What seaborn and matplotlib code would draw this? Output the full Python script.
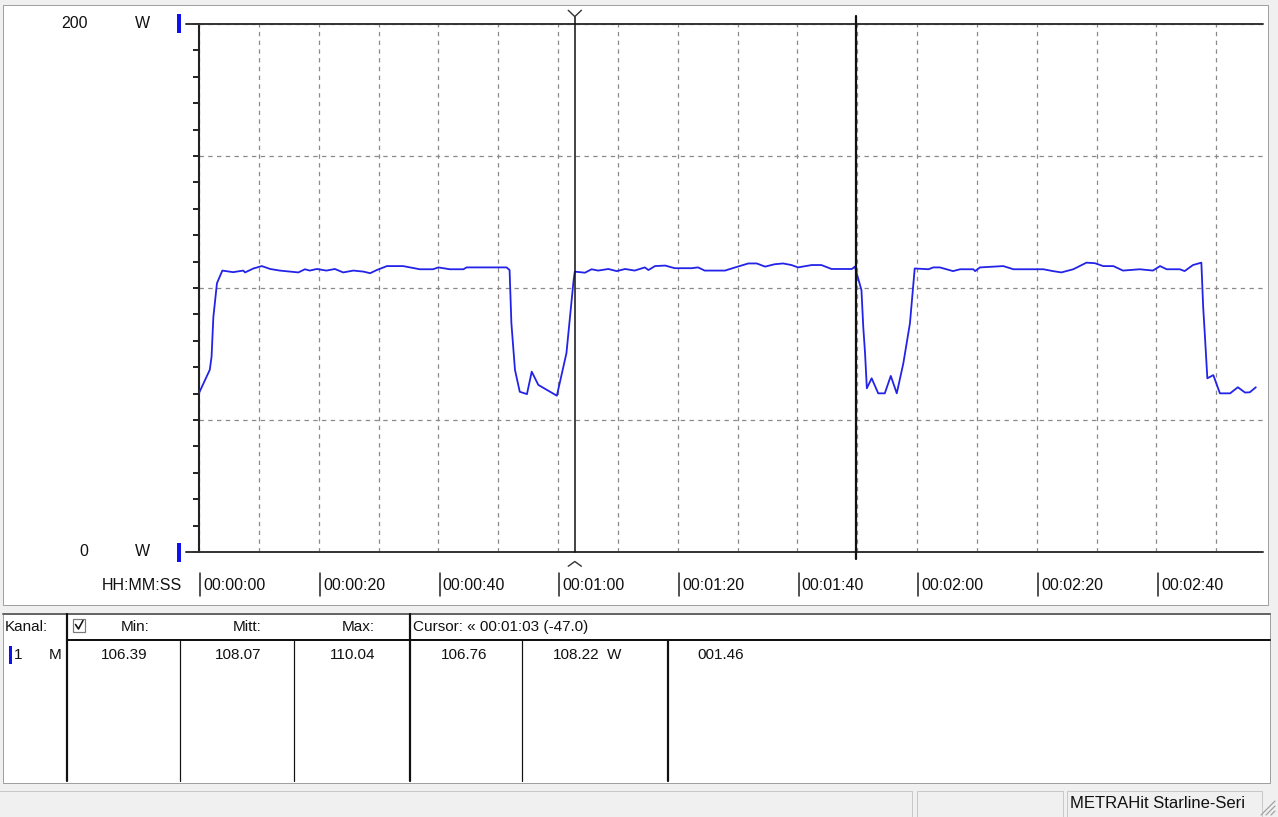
import matplotlib
matplotlib.use("Agg")
import matplotlib.pyplot as plt
import seaborn as sns
import pandas as pd
from matplotlib.lines import Line2D
from matplotlib.patches import Rectangle
from matplotlib.ticker import MultipleLocator

time_s = [0, 1.8, 2.1, 2.4, 3.0, 3.9, 5.7, 7.4, 7.7, 9.1, 10.5, 11.9, 13.5, 16.6, 17.7,
          18.5, 19.7, 21.3, 22.7, 24.1, 25.8, 27.5, 28.6, 29.7, 31.4, 34.1, 36.9, 39.1,
          40.0, 41.9, 44.2, 44.7, 51.4, 51.9, 52.2, 52.8, 53.6, 54.8, 55.6, 56.7, 59.8,
          61.4, 62.6, 62.8, 64.5, 65.6, 66.7, 68.4, 69.8, 71.2, 72.8, 74.5, 75.1, 76.2,
          77.9, 79.5, 82.3, 83.4, 84.5, 87.9, 89.6, 91.8, 93.2, 94.6, 96.2, 97.6, 99.0,
          100.1, 102.4, 104.0, 105.7, 109.1, 109.6, 109.9, 110.7, 111.0, 111.3, 111.6,
          112.4, 113.5, 114.6, 115.6, 116.6, 117.7, 118.8, 119.6, 121.9, 122.7, 123.8,
          126.0, 127.2, 129.4, 129.7, 130.5, 134.4, 136.1, 141.1, 142.7, 144.1, 146.1,
          148.3, 149.7, 151.1, 152.8, 154.4, 157.2, 159.4, 160.6, 161.7, 163.9, 164.7,
          166.1, 167.5, 167.8, 168.1, 168.5, 169.5, 170.6, 172.3, 173.6, 174.8, 175.6,
          176.6]
power_w = [60.2, 69.0, 74.0, 89.0, 101.8, 106.6, 106.0, 106.6, 105.9, 107.4, 108.3, 107.2,
           106.6, 105.9, 107.1, 106.6, 107.2, 106.6, 107.2, 105.9, 106.6, 106.2, 105.6,
           106.8, 108.3, 108.3, 107.1, 107.1, 107.8, 107.1, 107.1, 107.8, 107.8, 106.8,
           86.7, 69.0, 60.7, 59.8, 68.3, 63.3, 59.2, 75.3, 103.0, 106.2, 105.8, 107.1,
           106.6, 107.2, 106.4, 107.2, 106.6, 107.8, 106.8, 108.3, 108.5, 107.5, 107.5,
           107.8, 106.6, 106.6, 107.8, 109.3, 109.3, 108.1, 109.0, 109.3, 108.7, 107.8,
           108.7, 108.7, 107.2, 107.2, 108.1, 105.6, 99.2, 85.3, 75.3, 62.0, 65.8, 60.1,
           60.1, 66.7, 60.1, 71.5, 86.6, 107.4, 107.1, 107.8, 107.8, 106.4, 107.1, 107.1,
           106.4, 107.8, 108.3, 107.1, 107.1, 106.4, 105.9, 107.1, 109.6, 109.4, 108.3,
           108.3, 106.6, 107.1, 106.6, 108.3, 107.1, 107.1, 106.4, 108.7, 109.6, 92.9,
           81.6, 65.8, 67.0, 60.1, 60.1, 62.4, 60.4, 60.5, 62.4]

x_tick_values = [0, 20, 40, 60, 80, 100, 120, 140, 160]
x_tick_labels = ["00:00:00", "00:00:20", "00:00:40", "00:01:00", "00:01:20",
                 "00:01:40", "00:02:00", "00:02:20", "00:02:40"]
y_limits = [0, 200]
x_max = 177.8
cursor_times = [62.8, 109.8]

# Table below the chart
header_cells = ["Min:", "Mitt:", "Max:"]
stat_values = ["106.39", "108.07", "110.04"]
cursor_values = ["106.76", "108.22"]
cursor_title = "Cursor: « 00:01:03 (-47.0)"
cursor_diff = "001.46"
unit = "W"
status_text = "METRAHit Starline-Seri"

sns.set_style("white")
plt.rcParams['font.family'] = ['Liberation Sans', 'DejaVu Sans']

W, H = 1278, 817
fig = plt.figure(figsize=(W / 100, H / 100), dpi=100, facecolor='#f0f0f0')
PX = 0.72  # one pixel in points


def px_rect(x0, y0, x1, y1, **kw):
    fig.add_artist(Rectangle((x0 / W, 1 - y1 / H), (x1 - x0) / W, (y1 - y0) / H,
                             transform=fig.transFigure, **kw))


def px_line(xs, ys, **kw):
    fig.add_artist(Line2D([x / W for x in xs], [1 - y / H for y in ys],
                          transform=fig.transFigure, **kw))


def px_text(x, y, s, **kw):
    fig.text(x / W, 1 - y / H, s, **kw)


# panels
px_rect(3, 5, 1268, 605, facecolor='white', edgecolor='#a0a0a0', lw=PX, zorder=-5)
px_rect(3, 613, 1270, 783, facecolor='white', edgecolor='#a0a0a0', lw=PX, zorder=-5)
px_line([3, 1270], [614, 614], color='#666666', lw=2 * PX)

# chart
ax = fig.add_axes([199 / W, 1 - 552 / H, (1263 - 199) / W, (552 - 24) / H])
ax.set_facecolor('none')
df = pd.DataFrame({'t': time_s, 'P': power_w})
sns.lineplot(data=df, x='t', y='P', ax=ax, color='#2323e8', linewidth=1.3,
             estimator=None, sort=False, zorder=3)
ax.set_xlim(0, x_max)
ax.set_ylim(*y_limits)
ax.set_xlabel('')
ax.set_ylabel('')
ax.xaxis.set_major_locator(MultipleLocator(10))
ax.yaxis.set_major_locator(MultipleLocator(50))
ax.yaxis.set_minor_locator(MultipleLocator(10))
ax.grid(True, which='major', color='#8a8a8a', linestyle=(0, (3.5, 3.5)), linewidth=0.9)
ax.set_axisbelow(True)
ax.tick_params(axis='x', length=0, labelbottom=False)
ax.tick_params(axis='y', which='both', left=True, length=4.5, width=1.4,
               color='#222222', labelleft=False, direction='out')
for side in ['top', 'right', 'bottom']:
    ax.spines[side].set_visible(False)
ax.spines['left'].set_color('#222222')
ax.spines['left'].set_linewidth(1.5)
ext = -13 / 1064
ax.axhline(y_limits[1], xmin=ext, xmax=1, clip_on=False, color='#333333', lw=1.4, zorder=4)
ax.axhline(y_limits[0], xmin=ext, xmax=1, clip_on=False, color='#333333', lw=1.4, zorder=4)

# cursors
c1, c2 = cursor_times
ax.plot([c1, c1], [0, 202.8], color='#111111', lw=1.1, clip_on=False, zorder=5)
ax.plot([c1 - 1.1, c1, c1 + 1.1], [205.2, 202.8, 205.2], color='#333333', lw=1.0,
        clip_on=False, zorder=5)
ax.plot([c1 - 1.1, c1, c1 + 1.1], [-5.4, -3.6, -5.4], color='#333333', lw=1.0,
        clip_on=False, zorder=5)
ax.plot([c2, c2], [-2.6, 203.0], color='#111111', lw=1.6, clip_on=False, zorder=5)

# x labels
for t, lab in zip(x_tick_values, x_tick_labels):
    ax.plot([t + 0.2, t + 0.2], [-8.0, -16.5], color='#222222', lw=1.1, clip_on=False)
    ax.annotate(lab, (t, -12.6), xytext=(3.2, 0), textcoords='offset points',
                ha='left', va='center', fontsize=11.5, color='#111111',
                annotation_clip=False)
px_text(182, 585, 'HH:MM:SS', ha='right', va='center', fontsize=11.5, color='#111111')

# y labels
px_text(88, 24, str(y_limits[1]), ha='right', va='center', fontsize=11.5, color='#111111')
px_text(88, 552, str(y_limits[0]), ha='right', va='center', fontsize=11.5, color='#111111')
px_text(142, 24, unit, ha='center', va='center', fontsize=11.5, color='#111111')
px_text(142, 552, unit, ha='center', va='center', fontsize=11.5, color='#111111')
px_rect(177, 14, 181, 33, facecolor='#1010ee', edgecolor='none')
px_rect(177, 543, 181, 562, facecolor='#1010ee', edgecolor='none')

# table grid
px_line([67, 1270], [639.5, 639.5], color='#111111', lw=2 * PX)
for x in [67, 410, 668]:
    y_top = 614 if x != 668 else 640
    px_line([x, x], [y_top, 781], color='#111111', lw=2.2 * PX)
for x in [180, 294, 522]:
    px_line([x, x], [640, 781], color='#111111', lw=1.2 * PX)

tfs = 11
px_text(5, 627, 'Kanal:', ha='left', va='center', fontsize=tfs, color='#111111')
px_rect(73, 619, 85, 632, facecolor='white', edgecolor='#7a7a7a', lw=1.2 * PX)
px_line([75.5, 78.5, 83], [624.5, 629, 620.5], color='#111111', lw=1.6 * PX)
for x_r, txt in zip([150, 262, 375], header_cells):
    px_text(x_r, 627, txt, ha='right', va='center', fontsize=tfs, color='#111111')
px_text(413, 627, cursor_title, ha='left', va='center', fontsize=tfs, color='#111111')

px_rect(9, 646, 12, 664, facecolor='#1010ee', edgecolor='none')
px_text(14, 655, '1', ha='left', va='center', fontsize=tfs, color='#111111')
px_text(62, 655, 'M', ha='right', va='center', fontsize=tfs, color='#111111')
for x_r, txt in zip([148, 261, 375], stat_values):
    px_text(x_r, 655, txt, ha='right', va='center', fontsize=tfs, color='#111111')
px_text(487, 655, cursor_values[0], ha='right', va='center', fontsize=tfs, color='#111111')
px_text(600, 655, cursor_values[1], ha='right', va='center', fontsize=tfs, color='#111111')
px_text(607, 655, unit, ha='left', va='center', fontsize=tfs, color='#111111')
px_text(697, 655, cursor_diff, ha='left', va='center', fontsize=tfs, color='#111111')

# status bar
px_line([0, 912, 912], [791, 791, 817], color='#c8c8c8', lw=PX)
px_rect(917, 791, 1063, 818, facecolor='none', edgecolor='#c8c8c8', lw=PX)
px_rect(1067, 791, 1262, 818, facecolor='none', edgecolor='#c8c8c8', lw=PX)
px_text(1070, 804, status_text, ha='left', va='center', fontsize=12, color='#111111')
for d in [4, 9, 14]:
    px_line([1275 - d, 1275], [815, 815 - d], color='#a0a0a0', lw=1.2 * PX)

fig.savefig('out.png', dpi=100, facecolor=fig.get_facecolor())
